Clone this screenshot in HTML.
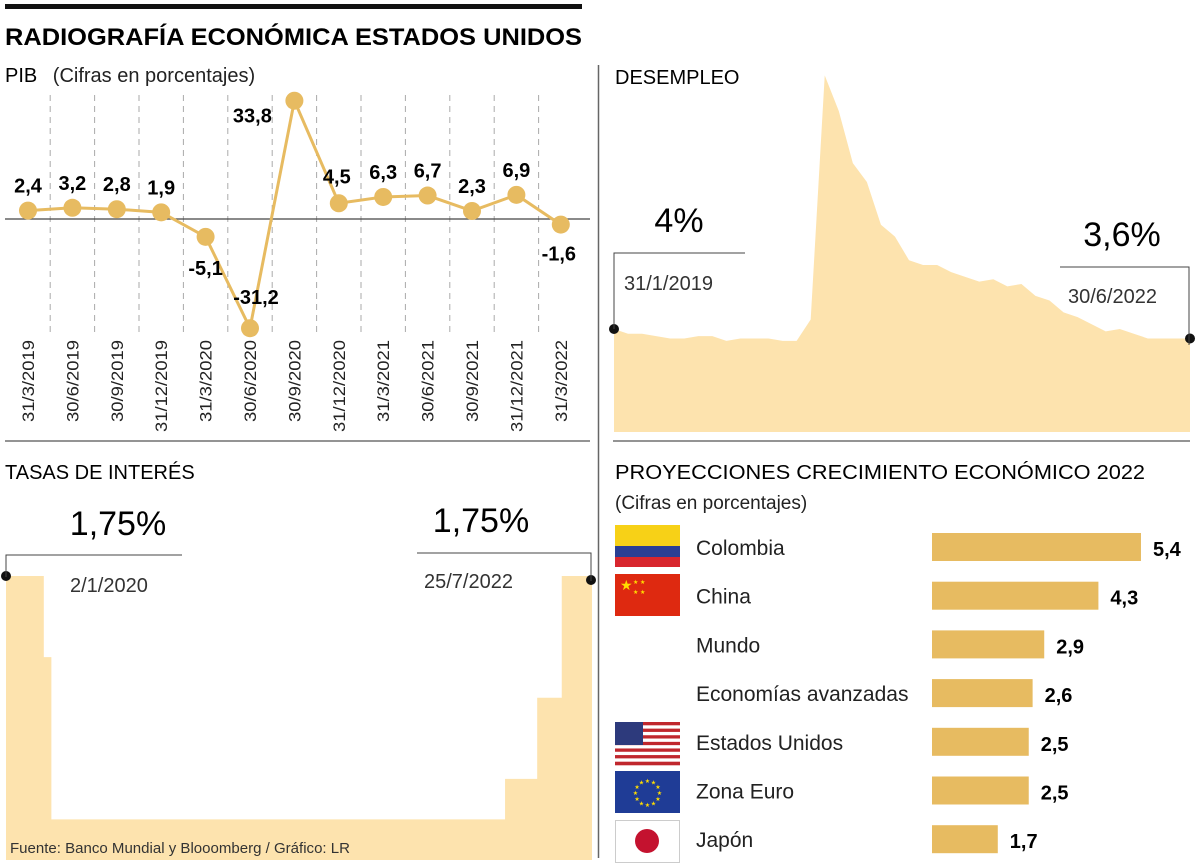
<!DOCTYPE html>
<html><head><meta charset="utf-8">
<style>
html,body{margin:0;padding:0;background:#fff;}
svg{display:block;font-family:"Liberation Sans",sans-serif;}
.b{font-weight:bold;}
</style></head>
<body>
<svg width="1200" height="865" viewBox="0 0 1200 865" id="root">
<rect x="5" y="4" width="577" height="5" fill="#111"/>
<text x="5" y="45" font-size="24" class="b" textLength="577" lengthAdjust="spacingAndGlyphs">RADIOGRAFÍA ECONÓMICA ESTADOS UNIDOS</text>
<line x1="598.5" y1="65" x2="598.5" y2="858" stroke="#666" stroke-width="1.5"/>
<line x1="5" y1="441" x2="590" y2="441" stroke="#555" stroke-width="1.2"/>
<line x1="613" y1="441" x2="1190" y2="441" stroke="#555" stroke-width="1.2"/>

<text x="5" y="82" font-size="20">PIB <tspan dx="10" fill="#222">(Cifras en porcentajes)</tspan></text>
<text x="615" y="84" font-size="20">DESEMPLEO</text>
<text x="5" y="479" font-size="20">TASAS DE INTERÉS</text>
<text x="615" y="479" font-size="20" textLength="530" lengthAdjust="spacingAndGlyphs">PROYECCIONES CRECIMIENTO ECONÓMICO 2022</text>
<text x="615" y="509" font-size="19" fill="#222">(Cifras en porcentajes)</text>

<g id="pib"></g>
<g id="unemp"></g>
<g id="rates"></g>
<g id="bars"></g>

<polyline points="745,253 614,253 614,329" fill="none" stroke="#444" stroke-width="1"/>
<text x="679" y="232" font-size="34" text-anchor="middle">4%</text>
<text x="624" y="290" font-size="20" fill="#333">31/1/2019</text>
<polyline points="1060,267 1189,267 1189,345" fill="none" stroke="#444" stroke-width="1"/>
<text x="1122" y="246" font-size="34" text-anchor="middle">3,6%</text>
<text x="1068" y="303" font-size="20" fill="#333">30/6/2022</text>

<polyline points="182,555 6,555 6,577" fill="none" stroke="#444" stroke-width="1"/>
<text x="118" y="535" font-size="34" text-anchor="middle">1,75%</text>
<text x="70" y="592" font-size="20" fill="#333">2/1/2020</text>
<polyline points="417,553 591,553 591,581" fill="none" stroke="#444" stroke-width="1"/>
<text x="481" y="532" font-size="34" text-anchor="middle">1,75%</text>
<text x="424" y="588" font-size="20" fill="#333">25/7/2022</text>

<g>
<rect x="615" y="525" width="65" height="21" fill="#f7d117"/><rect x="615" y="546" width="65" height="11" fill="#2a3f94"/><rect x="615" y="557" width="65" height="10" fill="#d8262e"/></g>
<g>
<rect x="615" y="574" width="65" height="42" fill="#de2910"/><text x="620" y="590" font-size="14" fill="#ffde00">★</text><text x="633" y="584" font-size="6" fill="#ffde00">★ ★</text><text x="633" y="594" font-size="6" fill="#ffde00">★ ★</text></g>
<g id="usflag"></g>
<g>
<rect x="615" y="771" width="65" height="42" fill="#1f3c96"/><g id="eustars"></g></g>
<g>
<rect x="615.5" y="820.5" width="64" height="42" fill="#fff" stroke="#ccc"/><circle cx="647" cy="841" r="12" fill="#c4122f"/></g>

<text x="10" y="853" font-size="15" fill="#333" textLength="340" lengthAdjust="spacingAndGlyphs">Fuente: Banco Mundial y Blooomberg / Gráfico: LR</text>
</svg>
<script>
const NS="http://www.w3.org/2000/svg";
function mk(tag,attrs,parent){const e=document.createElementNS(NS,tag);for(const k in attrs)e.setAttribute(k,attrs[k]);parent.appendChild(e);return e;}

// ---------- PIB ----------
const pibDates=["31/3/2019","30/6/2019","30/9/2019","31/12/2019","31/3/2020","30/6/2020","30/9/2020","31/12/2020","31/3/2021","30/6/2021","30/9/2021","31/12/2021","31/3/2022"];
const pibValues=[2.4,3.2,2.8,1.9,-5.1,-31.2,33.8,4.5,6.3,6.7,2.3,6.9,-1.6];
const pibLabels=["2,4","3,2","2,8","1,9","-5,1","-31,2","33,8","4,5","6,3","6,7","2,3","6,9","-1,6"];
const pib=document.getElementById('pib');
const px=i=>28+i*44.4, py=v=>219-v*3.5;
for(let i=0;i<pibDates.length-1;i++){
  const g=mk('line',{x1:px(i)+22.2,x2:px(i)+22.2,y1:95,y2:332,stroke:'#aaa','stroke-dasharray':'6,5','stroke-width':1},pib);
  
  
}
const zl=mk('line',{x1:5,x2:590,y1:py(0),y2:py(0),stroke:'#444','stroke-width':1.2},pib);


const pl=mk('polyline',{points:pibValues.map((v,i)=>px(i)+','+py(v)).join(' '),fill:'none',stroke:'#e7bb61','stroke-width':3},pib);


pibValues.forEach((v,i)=>{
  const c=mk('circle',{cx:px(i),cy:py(v),r:9,fill:'#e7bb61'},pib);
  
  
  let lx=px(i), ly=py(v)-18;
  if(i===4){ly=py(v)+38;}
  if(i===5){lx=px(i)+6;ly=py(v)-24;}
  if(i===6){lx=px(i)-42;ly=py(v)+22;}
  if(i===7){lx=px(i)-2;ly=py(v)-20;}
  if(i===12){lx=px(i)-2;ly=py(v)+36;}
  const t=mk('text',{x:lx,y:ly,'font-size':20,'font-weight':'bold','text-anchor':'middle'},pib);
  t.textContent=pibLabels[i];
  
  
  const d=mk('text',{x:0,y:0,'font-size':17,fill:'#222','text-anchor':'end',transform:`translate(${px(i)+6},340) rotate(-90)`},pib);
  d.textContent=pibDates[i];
  d.setAttribute('textLength', pibDates[i].length>=10?92:82);
  d.setAttribute('lengthAdjust','spacingAndGlyphs');
  
  
});

// ---------- Unemployment ----------
const unempValues=[4.0,3.8,3.8,3.7,3.6,3.6,3.7,3.7,3.5,3.6,3.6,3.6,3.5,3.5,4.4,14.7,13.2,11.0,10.2,8.4,7.9,6.9,6.7,6.7,6.4,6.2,6.0,6.1,5.8,5.9,5.4,5.2,4.7,4.5,4.2,3.9,4.0,3.8,3.6,3.6,3.6,3.6];
const un=document.getElementById('unemp');
const ux=i=>614+i*(576/(unempValues.length-1)), uy=v=>329-(v-4)*23.7;
let d='M'+ux(0)+',432 '+unempValues.map((v,i)=>'L'+ux(i)+','+uy(v)).join(' ')+' L'+ux(unempValues.length-1)+',432 Z';
const ua=mk('path',{d:d,fill:'#fde3ae'},un);


[0,unempValues.length-1].forEach(i=>{
  const c=mk('circle',{cx:ux(i),cy:uy(unempValues[i]),r:5,fill:'#111'},un);
  
  
});

// ---------- Interest rates ----------
const rateMonths=[0,2.0,2.4,26.4,28.1,29.4];
const rateValues=[1.75,1.25,0.25,0.5,1.0,1.75];
const rateEnd=31;
const rt=document.getElementById('rates');
const rx=m=>6+m*(586/rateEnd), ry=v=>860-v*162.3;
let rd='M'+rx(0)+',860';
rateValues.forEach((v,i)=>{rd+=' L'+rx(rateMonths[i])+','+ry(v)+' L'+rx(i<rateValues.length-1?rateMonths[i+1]:rateEnd)+','+ry(v);});
rd+=' L'+rx(rateEnd)+',860 Z';
const ra=mk('path',{d:rd,fill:'#fde3ae'},rt);


const rd1=mk('circle',{cx:rx(0),cy:ry(rateValues[0]),r:5,fill:'#111'},rt);


const rd2=mk('circle',{cx:rx(rateEnd)-1,cy:ry(rateValues[5])+4,r:5,fill:'#111'},rt);



// ---------- Projections ----------
const projCountries=["Colombia","China","Mundo","Economías avanzadas","Estados Unidos","Zona Euro","Japón"];
const projValues=[5.4,4.3,2.9,2.6,2.5,2.5,1.7];
const projLabels=["5,4","4,3","2,9","2,6","2,5","2,5","1,7"];
const bg=document.getElementById('bars');
projValues.forEach((v,i)=>{
  const y=533+i*48.7, w=v*38.7;
  const r=mk('rect',{x:932,y:y,width:w,height:28,fill:'#e7bb61'},bg);
  
  
  const t=mk('text',{x:696,y:y+22,'font-size':21,fill:'#222'},bg);
  t.textContent=projCountries[i];
  
  
  const vt=mk('text',{x:932+w+12,y:y+23,'font-size':20,'font-weight':'bold'},bg);
  vt.textContent=projLabels[i];
  
  
});

const us=document.getElementById('usflag');
for(let s=0;s<13;s++){mk('rect',{x:615,y:722+s*43/13,width:65,height:43/13+0.3,fill:s%2?'#fff':'#c0272d'},us);}
mk('rect',{x:615,y:722,width:28,height:23,fill:'#2d3a7c'},us);
const eu=document.getElementById('eustars');
for(let k=0;k<12;k++){const a=k*Math.PI/6;const t=mk('text',{x:647.5+12*Math.cos(a),y:795+12*Math.sin(a),'font-size':6,fill:'#ffdd00','text-anchor':'middle'},eu);t.textContent='★';}
</script>
</body></html>
